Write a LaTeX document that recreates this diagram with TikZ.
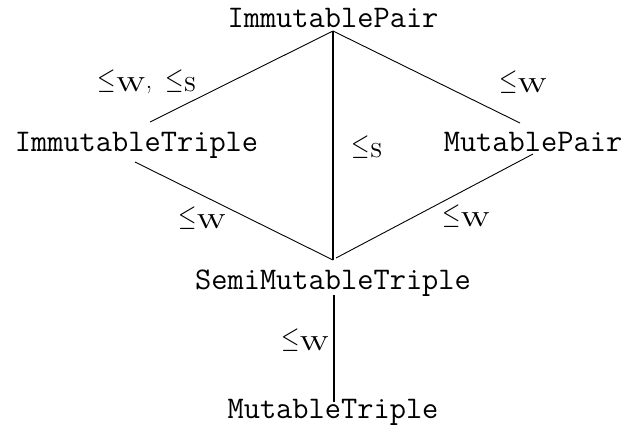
\documentclass[tikz,border=0pt]{standalone}
\usepackage{graphicx}
\usetikzlibrary{calc}
\tikzset{
  cls/.style={inner sep=0pt, anchor=base, font=\fontsize{31.5}{36}\selectfont\ttfamily},
  lbl/.style={inner sep=0pt, font=\fontsize{27}{30}\selectfont},
  thinedge/.style={line width=0.9pt},
  thickedge/.style={line width=2.2pt}
}
\newcommand{\myle}{\scalebox{0.95}[1.18]{$\le$}}
\newcommand{\relW}{\myle\raisebox{-3pt}{\scalebox{1.3}[1]{\textsc{w}}}}
\newcommand{\relS}{\myle\raisebox{-3pt}{\textsc{s}}}
\begin{document}
\begin{tikzpicture}[x=1pt,y=-1pt]
\useasboundingbox (0,0) rectangle (626,429);
\node[cls] (ip) at (333,27) {ImmutablePair};
\node[cls] (it) at (136.5,151) {ImmutableTriple};
\node[cls] (mp) at (533,151) {MutablePair};
\node[cls] (smt) at (333,289) {SemiMutableTriple};
\node[cls] (mt) at (333,418) {MutableTriple};

\coordinate (ipb) at ($(ip.base)+(0,4)$);
\coordinate (itt) at ($(it.base)+(13.5,-29)$);
\coordinate (itb) at ($(it.base)+(-1.5,11)$);
\coordinate (mpt) at ($(mp.base)+(-13,-28)$);
\coordinate (mpb) at ($(mp.base)+(0,3)$);
\coordinate (smtt) at ($(smt.base)+(0,-29)$);
\coordinate (smtr) at ($(smt.base)+(3,-31)$);
\coordinate (smtb) at ($(smt.base)+(1,6)$);
\coordinate (mtt) at ($(mt.base)+(1,-16)$);

\draw[thinedge] (ipb) -- (itt);
\draw[thinedge] (ipb) -- (mpt);
\draw[thickedge] (ipb) -- (smtt);
\draw[thinedge] (itb) -- (smtt);
\draw[thinedge] (mpb) -- (smtr);
\draw[thickedge] (smtb) -- (mtt);

\node[lbl] (l1) at (147,82) {\relW,\hspace{5pt} \relS};
\node[lbl] (l2) at (523,82) {\relW};
\node[lbl] (l3) at (367,147) {\relS};
\node[lbl] (l4) at (202,218) {\relW};
\node[lbl] (l5) at (466,216) {\relW};
\node[lbl] (l6) at (305,340) {\relW};
\end{tikzpicture}
\end{document}
